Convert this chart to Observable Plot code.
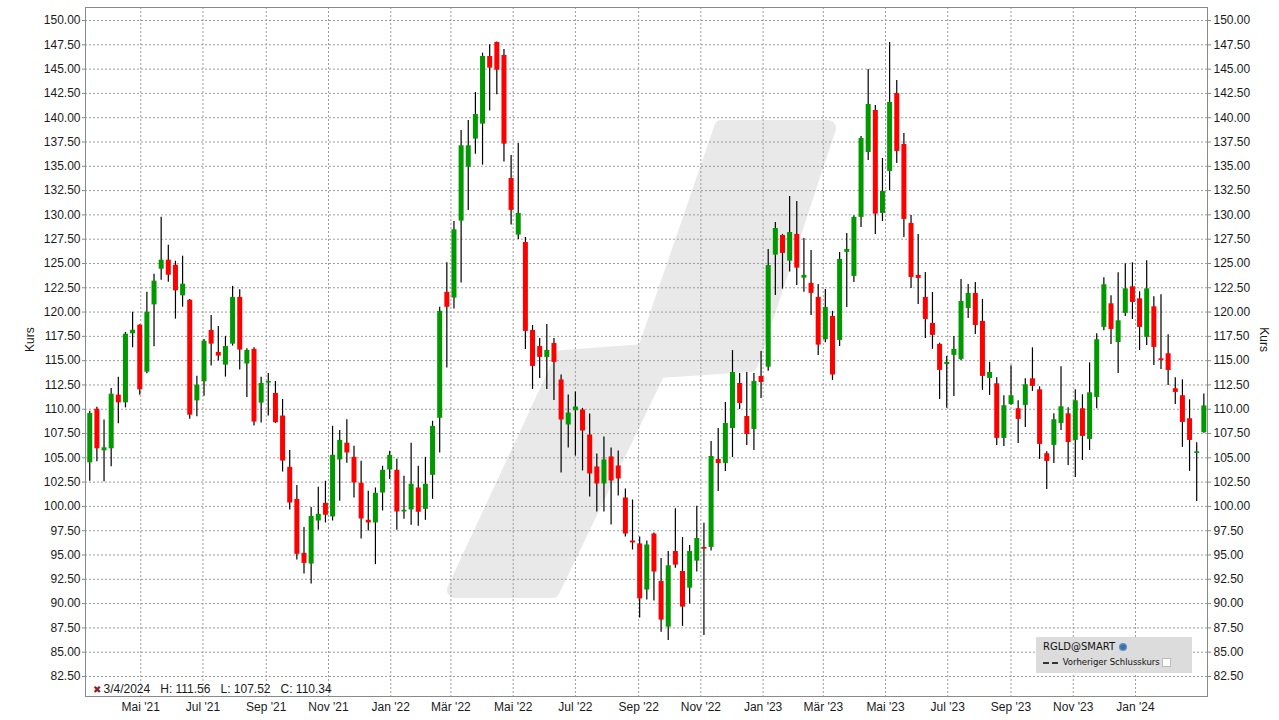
<!DOCTYPE html>
<html>
<head>
<meta charset="utf-8">
<script src="https://cdn.jsdelivr.net/npm/d3@7"></script>
<script src="https://cdn.jsdelivr.net/npm/@observablehq/plot@0.6"></script>
<style>
  body { margin: 0; background: #fff; }
  #wrap { position: relative; width: 1279px; height: 720px; overflow: hidden; background: #fff; }
  #chart { position: absolute; left: 0; top: 0; }
  #legend { position: absolute; left: 1036px; top: 637px; width: 156px; height: 36px; background: #dcdcdc;
            font-family: "DejaVu Sans", Verdana, sans-serif; color: #111; }
  #legend .l1 { position: absolute; left: 7px; top: 4px; font-size: 10px; white-space: nowrap; }
  #legend .l2 { position: absolute; left: 7px; top: 20px; font-size: 8.5px; white-space: nowrap; }
  #legend svg { vertical-align: middle; }
</style>
</head>
<body>
<div id="wrap">
  <div id="chart"></div>
  <div id="legend">
    <div class="l1">RGLD@SMART <svg width="10" height="10"><circle cx="5" cy="5" r="4" fill="#5b8fc7"/><path d="M2 4 Q5 1 8 4 L7 7 Q5 8 3 7 Z" fill="#3a6fa7"/></svg></div>
    <div class="l2"><svg width="17" height="6"><line x1="0" y1="3" x2="17" y2="3" stroke="#333" stroke-width="2" stroke-dasharray="6,3"/></svg> Vorheriger Schlusskurs <svg width="9" height="9"><rect x="0.5" y="0.5" width="8" height="8" fill="#fff" stroke="#bbb"/></svg></div>
  </div>
</div>
<script>
// ---- Data (weekly candles, RGLD) ----
const firstWeek = "2021-03-08";
const weekCount = 157;

const open = [
104.49,110.0,105.72,105.93,111.45,110.66,117.76,118.65,113.81,120.74,
124.41,125.34,124.82,121.67,121.22,110.86,112.82,118.11,115.85,114.54,
116.7,121.51,114.65,116.16,110.63,112.69,111.63,109.3,104.02,100.72,
95.17,94.07,98.5,100.32,98.92,104.78,106.5,105.05,102.38,98.57,
98.3,101.38,103.75,103.72,99.43,99.64,101.9,99.7,103.2,109.07,
122.03,121.44,129.36,134.91,137.8,139.34,146.3,147.74,146.4,133.75,
127.92,127.16,118.11,116.46,115.33,116.77,113.01,108.38,109.85,109.92,
107.35,104.06,102.31,105.09,104.16,100.87,96.44,96.14,91.4,97.16,
92.28,87.58,95.36,93.31,91.59,94.37,95.78,95.78,104.83,104.42,
108.02,112.65,109.25,107.92,113.37,114.33,125.86,127.88,125.24,127.99,
123.49,122.95,121.51,117.15,119.55,117.08,126.14,123.67,129.74,136.42,
140.74,130.15,134.47,142.49,137.25,129.12,123.77,121.51,118.83,116.67,
114.61,115.54,115.13,120.37,121.92,119.04,113.17,112.62,107.0,110.49,
110.05,110.39,113.13,112.0,105.42,106.28,108.54,109.53,106.79,110.05,
106.89,111.21,118.42,120.85,116.87,119.86,122.6,121.36,117.39,120.54,
115.19,115.71,112.11,111.39,109.02,105.45,107.58];

const high = [
109.8,110.2,108.88,112.13,113.3,117.9,119.99,118.7,122.04,123.9,
129.76,126.88,125.23,125.75,121.3,113.4,117.17,119.65,118.52,117.5,
122.64,122.29,116.22,116.33,113.28,113.69,112.86,111.01,105.76,102.16,
97.84,99.9,101.97,102.59,108.24,107.8,108.93,106.19,104.64,101.56,
101.9,104.13,105.67,104.85,103.1,106.5,104.13,105.05,108.76,120.49,
125.08,129.32,138.69,139.72,142.6,146.64,147.5,147.8,147.02,136.11,
137.35,127.68,118.62,117.29,118.73,117.29,113.52,111.46,111.77,110.09,
109.51,105.4,107.14,106.01,105.7,101.79,100.66,96.86,96.44,97.26,
94.64,95.36,99.75,96.8,95.98,100.03,98.28,106.68,108.02,110.69,
116.04,113.68,113.78,113.68,115.94,126.43,129.22,127.99,131.9,131.38,
127.58,126.34,122.84,122.33,120.07,126.14,128.09,129.9,138.07,144.96,
141.26,135.81,147.74,143.83,138.38,129.94,127.99,124.08,122.02,116.8,
115.44,117.49,123.36,122.84,123.05,121.3,114.82,113.24,111.39,114.47,
110.87,113.13,116.32,112.31,105.62,109.53,114.37,110.15,112.0,111.49,
114.78,117.76,123.53,121.67,124.04,124.97,125.07,122.09,125.27,121.57,
121.78,117.66,113.24,113.03,110.97,106.55,111.56];

const low = [
102.6,104.6,102.53,104.07,108.5,110.14,116.32,111.45,113.64,116.42,
123.28,123.07,119.27,120.5,108.98,109.22,111.34,114.44,114.96,113.31,
116.5,114.03,111.22,108.27,108.58,109.3,108.54,103.54,99.63,94.48,
93.04,92.01,97.54,98.3,98.5,100.53,104.44,100.87,96.65,97.48,
94.01,99.53,102.76,97.54,98.68,98.06,97.96,98.57,100.73,105.5,
114.25,120.31,122.98,130.46,136.25,135.12,140.68,142.36,135.43,128.95,
127.47,116.16,112.04,113.17,112.04,110.91,103.44,106.01,105.19,103.65,
100.97,99.43,99.43,98.09,101.07,96.86,95.52,88.52,90.37,90.27,
87.06,86.21,93.65,87.65,89.95,93.24,86.72,95.4,101.54,103.59,
105.03,109.97,106.27,105.75,111.1,113.9,121.71,122.36,124.11,122.74,
122.05,119.65,115.54,116.84,112.97,116.46,120.48,123.05,128.71,135.6,
127.99,129.32,132.51,135.29,127.68,122.43,120.79,117.29,116.16,111.01,
110.09,111.32,115.0,119.35,117.7,111.94,111.42,106.28,106.17,110.4,
106.48,108.13,111.83,104.84,101.75,104.42,107.82,104.22,102.98,104.73,
105.76,110.05,118.07,116.67,113.68,119.55,119.24,116.05,116.56,114.51,
114.09,112.45,110.49,106.07,103.6,100.51,107.52];

const close = [
109.56,105.93,106.03,111.55,110.66,117.72,118.13,112.0,119.99,123.18,
125.34,123.79,122.18,122.87,109.39,112.48,117.0,116.7,115.47,116.46,
121.51,116.09,116.05,108.68,112.66,112.86,108.61,104.67,100.35,95.07,
94.14,98.97,99.19,99.09,105.26,106.8,105.5,102.41,98.71,98.3,
101.35,103.72,105.26,99.43,99.6,102.28,99.4,102.28,108.24,120.08,
120.49,128.47,137.11,137.11,140.33,146.3,145.1,144.89,137.28,130.46,
130.15,118.01,114.41,115.33,116.05,114.82,108.89,109.61,110.23,107.76,
103.34,102.31,104.78,102.62,102.82,97.16,96.24,90.48,96.03,93.25,
88.3,93.89,93.96,89.64,95.36,96.7,95.6,105.14,104.42,108.53,
113.78,110.59,107.4,112.85,112.75,124.79,128.6,126.03,128.19,124.52,
123.77,121.92,116.6,120.48,113.52,125.42,126.44,129.74,137.86,141.36,
130.08,132.41,141.57,136.53,129.53,123.56,123.46,119.24,117.6,114.0,
114.82,116.16,121.09,121.92,118.62,113.38,113.79,107.0,110.36,111.39,
108.95,112.52,112.35,106.38,104.63,108.92,110.25,106.58,110.87,107.2,
111.69,117.15,122.81,118.21,119.1,122.39,120.99,118.42,122.39,116.36,
115.02,113.99,111.73,108.64,106.79,105.62,110.34];

const monthTicks = ["2021-05-01","2021-07-01","2021-09-01","2021-11-01","2022-01-01","2022-03-01",
  "2022-05-01","2022-07-01","2022-09-01","2022-11-01","2023-01-01","2023-03-01","2023-05-01",
  "2023-07-01","2023-09-01","2023-11-01","2024-01-01"];
const monthNames = ["Jan","Feb","Mär","Apr","Mai","Jun","Jul","Aug","Sep","Okt","Nov","Dez"];
const yTicks = [82.5,85,87.5,90,92.5,95,97.5,100,102.5,105,107.5,110,112.5,115,117.5,120,
  122.5,125,127.5,130,132.5,135,137.5,140,142.5,145,147.5,150];

// ---- Build table ----
const start = new Date(firstWeek);
const weeks = d3.utcMonday.range(start, d3.utcDay.offset(start, weekCount * 7));
const data = weeks.map((date, i) => ({date, open: open[i], high: high[i], low: low[i], close: close[i]}));
const last = data[data.length - 1];
const tickDates = monthTicks.map(s => new Date(s));
const fmtMonth = d => `${monthNames[d.getUTCMonth()]} '${String(d.getUTCFullYear()).slice(2)}`;
const fmtDay = d => `${d.getUTCMonth() + 1}/${d.getUTCDate()}/${d.getUTCFullYear()}`;
const barX = d => d3.utcDay.offset(d.date, 4); // candle drawn at the end of its trading week
const green = "#009a00", red = "#ff0000";
const gridStyle = {stroke: "#9c9c9c", strokeOpacity: 1, strokeDasharray: "2,2", strokeWidth: 1};
const nb = "\u00a0\u00a0\u00a0";

const chart = Plot.plot({
  width: 1279, height: 720,
  marginLeft: 85, marginRight: 72, marginTop: 7, marginBottom: 24,
  style: {fontFamily: "'Liberation Sans', Arial, sans-serif", fontSize: "12px", color: "#1a1a1a", background: "transparent", overflow: "visible"},
  x: {type: "utc", domain: [new Date("2021-03-07T20:00Z"), new Date("2024-03-11T14:00Z")]},
  y: {domain: [80.44, 151.34]},
  color: {type: "identity"},
  marks: [
    Plot.gridY(yTicks, gridStyle),
    Plot.gridX(tickDates, gridStyle),
    Plot.axisY(yTicks, {anchor: "left", tickFormat: d => d.toFixed(2), tickSize: 3, tickPadding: 2, label: null, stroke: "#888", fill: "#1a1a1a"}),
    Plot.axisY(yTicks, {anchor: "right", tickFormat: d => d.toFixed(2), tickSize: 3, tickPadding: 3, label: null, stroke: "#888", fill: "#1a1a1a"}),
    Plot.axisX(tickDates, {anchor: "bottom", tickSize: 0, tickPadding: 6, tickFormat: fmtMonth, label: null, fill: "#1a1a1a"}),
    Plot.frame({stroke: "#8a8a8a"}),
    Plot.text(["Kurs"], {frameAnchor: "left", dx: -55, rotate: -90, fill: "#1a1a1a"}),
    Plot.text(["Kurs"], {frameAnchor: "right", dx: 56, rotate: 90, fill: "#1a1a1a"}),
    Plot.ruleX(data, {x: barX, y1: "low", y2: "high", stroke: "#000", strokeWidth: 1.2}),
    Plot.ruleX(data, {x: barX, y1: "open", y2: "close", stroke: d => d.close >= d.open ? green : red, strokeWidth: 5}),
    Plot.text([last], {frameAnchor: "bottom-left", dx: 7, dy: -4, textAnchor: "start", lineAnchor: "bottom", text: () => "\u2716", fill: "#8b2323", fontSize: 10}),
    Plot.text([last], {frameAnchor: "bottom-left", dx: 18, dy: -4, textAnchor: "start", lineAnchor: "bottom",
      text: d => `${fmtDay(d.date)}${nb}H: ${d.high.toFixed(2)}${nb}L: ${d.low.toFixed(2)}${nb}C: ${d.close.toFixed(2)}`, fill: "#1a1a1a"})
  ]
});

// decorative background watermark (logo), drawn behind everything
d3.select(chart).insert("path", ":first-child")
  .attr("d", "M455,590 L552,590 L658,370 L750,364 L828,128 L722,128 L645,352 L563,358 Z")
  .attr("fill", "#e9e9e9").attr("stroke", "#e9e9e9").attr("stroke-width", 16).attr("stroke-linejoin", "round");

document.getElementById("chart").appendChild(chart);
</script>
</body>
</html>
